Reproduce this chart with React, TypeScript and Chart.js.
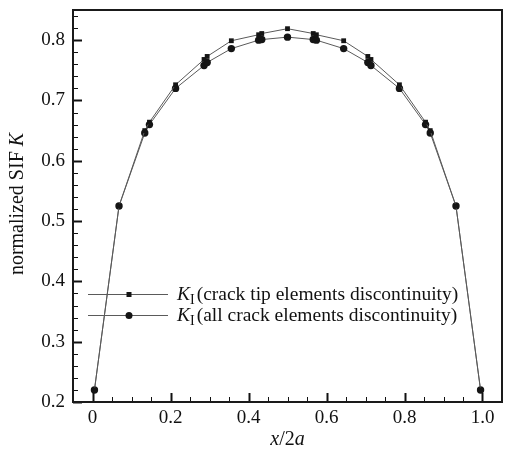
import { useEffect, useRef } from 'react';
import { Chart, registerables } from 'chart.js';

Chart.register(...registerables);

// ---- data ----
const xPositions = [0.005, 0.068, 0.134, 0.146, 0.213, 0.286, 0.294, 0.356, 0.426, 0.434, 0.5, 0.566, 0.574, 0.644, 0.706, 0.714, 0.787, 0.854, 0.866, 0.932, 0.995];
const kTipDiscontinuity = [0.22, 0.525, 0.65, 0.664, 0.726, 0.768, 0.773, 0.799, 0.809, 0.811, 0.819, 0.811, 0.809, 0.799, 0.773, 0.768, 0.726, 0.664, 0.65, 0.525, 0.22];
const kAllDiscontinuity = [0.22, 0.525, 0.646, 0.66, 0.72, 0.758, 0.763, 0.786, 0.8, 0.801, 0.805, 0.801, 0.8, 0.786, 0.763, 0.758, 0.72, 0.66, 0.646, 0.525, 0.22];
const xTickValues = [0, 0.2, 0.4, 0.6, 0.8, 1.0];
const xTickLabels = ['0', '0.2', '0.4', '0.6', '0.8', '1.0'];
const yTickValues = [0.2, 0.3, 0.4, 0.5, 0.6, 0.7, 0.8];
const yTickLabels = ['0.2', '0.3', '0.4', '0.5', '0.6', '0.7', '0.8'];
const legendTexts = ['(crack tip elements discontinuity)', '(all crack elements discontinuity)'];

const SERIF = "'Liberation Serif', 'Times New Roman', serif";
const LINE_COLOR = '#5a5a5a';
const MARK_COLOR = '#151515';

function drawMixed(ctx: CanvasRenderingContext2D, parts: { t: string; italic?: boolean; size: number; dy?: number; gap?: number }[], x: number, y: number, align: 'left' | 'center') {
  const widths = parts.map((p) => {
    ctx.font = `${p.italic ? 'italic ' : ''}${p.size}px ${SERIF}`;
    return ctx.measureText(p.t).width + (p.gap || 0);
  });
  const total = widths.reduce((a, b) => a + b, 0);
  let cx = align === 'center' ? x - total / 2 : x;
  parts.forEach((p, i) => {
    ctx.font = `${p.italic ? 'italic ' : ''}${p.size}px ${SERIF}`;
    ctx.fillText(p.t, cx, y + (p.dy || 0));
    cx += widths[i];
  });
}

const decorPlugin = {
  id: 'decor',
  afterDraw(chart: any) {
    const { ctx, chartArea, scales } = chart;
    const xs = scales.x;
    const ys = scales.y;
    const { left, right, top, bottom } = chartArea;
    ctx.save();
    // inward ticks
    ctx.strokeStyle = '#111';
    for (let i = 0; i <= 32; i++) {
      const v = 0.2 + i * 0.02;
      const py = Math.round(ys.getPixelForValue(v)) + 0.5;
      const major = i % 5 === 0;
      ctx.lineWidth = major ? 2 : 1;
      ctx.beginPath();
      ctx.moveTo(left, py);
      ctx.lineTo(left + (major ? 9 : 5), py);
      ctx.stroke();
    }
    for (let i = 0; i <= 20; i++) {
      const v = i * 0.05;
      const px = Math.round(xs.getPixelForValue(v)) + 0.5;
      const major = i % 4 === 0;
      ctx.lineWidth = major ? 2 : 1;
      ctx.beginPath();
      ctx.moveTo(px, bottom);
      ctx.lineTo(px, bottom - (major ? 9 : 5));
      ctx.stroke();
    }
    // frame
    ctx.lineWidth = 2;
    ctx.strokeStyle = '#1a1a1a';
    ctx.strokeRect(left, top, right - left, bottom - top);

    // axis titles
    ctx.fillStyle = '#111';
    ctx.textBaseline = 'middle';
    ctx.textAlign = 'left';
    drawMixed(ctx, [{ t: 'x', italic: true, size: 20 }, { t: '/2', size: 20 }, { t: 'a', italic: true, size: 20 }], (left + right) / 2, 440, 'center');
    ctx.save();
    ctx.translate(18, (top + bottom) / 2 - 2);
    ctx.rotate(-Math.PI / 2);
    drawMixed(ctx, [{ t: 'normalized SIF ', size: 20 }, { t: 'K', italic: true, size: 20 }], 0, 0, 'center');
    ctx.restore();

    // legend
    const rows = [294, 315];
    rows.forEach((ry, i) => {
      ctx.strokeStyle = LINE_COLOR;
      ctx.lineWidth = 1;
      ctx.beginPath();
      ctx.moveTo(88, ry + 0.5);
      ctx.lineTo(168, ry + 0.5);
      ctx.stroke();
      ctx.fillStyle = MARK_COLOR;
      if (i === 0) {
        ctx.fillRect(129 - 2.5, ry + 0.5 - 2.5, 5, 5);
      } else {
        ctx.beginPath();
        ctx.arc(129, ry + 0.5, 3.5, 0, Math.PI * 2);
        ctx.fill();
      }
      ctx.fillStyle = '#111';
      drawMixed(ctx, [
        { t: 'K', italic: true, size: 19.5 },
        { t: 'I', size: 14, dy: 5, gap: 2 },
        { t: legendTexts[i], size: 19.5 },
      ], 177, ry + 1, 'left');
    });
    ctx.restore();
  },
};

export default function App() {
  const ref = useRef<HTMLCanvasElement | null>(null);
  useEffect(() => {
    document.body.style.margin = '0';
    const canvas = ref.current!;
    const mk = (ys: number[]) => xPositions.map((x, i) => ({ x, y: ys[i] }));
    const chart = new Chart(canvas, {
      type: 'line',
      data: {
        datasets: [
          {
            label: 'KI (crack tip elements discontinuity)',
            data: mk(kTipDiscontinuity),
            borderColor: LINE_COLOR,
            borderWidth: 1,
            pointStyle: 'rect',
            pointRadius: 3.4,
            pointBackgroundColor: MARK_COLOR,
            pointBorderColor: MARK_COLOR,
            pointBorderWidth: 0,
            tension: 0,
          },
          {
            label: 'KI (all crack elements discontinuity)',
            data: mk(kAllDiscontinuity),
            borderColor: LINE_COLOR,
            borderWidth: 1,
            pointStyle: 'circle',
            pointRadius: 3.7,
            pointBackgroundColor: MARK_COLOR,
            pointBorderColor: MARK_COLOR,
            pointBorderWidth: 0,
            tension: 0,
          },
        ],
      },
      options: {
        animation: false,
        responsive: false,
        events: [],
        layout: { padding: { left: 0, right: 3, top: 10, bottom: 0 } },
        plugins: { legend: { display: false }, tooltip: { enabled: false } },
        scales: {
          x: {
            type: 'linear',
            min: -0.05,
            max: 1.05,
            afterBuildTicks: (s: any) => {
              s.ticks = xTickValues.map((v) => ({ value: v }));
            },
            afterFit: (s: any) => {
              s.height = 50;
              s.paddingLeft = 0;
              s.paddingRight = 0;
            },
            grid: { display: false, drawTicks: false, tickLength: 0 },
            border: { display: false },
            ticks: {
              padding: 5,
              color: '#111',
              font: { family: SERIF, size: 19 },
              maxRotation: 0,
              autoSkip: false,
              callback: (v: any) => {
                const i = xTickValues.findIndex((t) => Math.abs(t - Number(v)) < 1e-6);
                return i >= 0 ? xTickLabels[i] : '';
              },
            },
          },
          y: {
            type: 'linear',
            min: 0.2,
            max: 0.85,
            afterBuildTicks: (s: any) => {
              s.ticks = yTickValues.map((v) => ({ value: v }));
            },
            afterFit: (s: any) => {
              s.width = 73;
              s.paddingTop = 0;
              s.paddingBottom = 0;
            },
            grid: { display: false, drawTicks: false, tickLength: 0 },
            border: { display: false },
            ticks: {
              padding: 8,
              color: '#111',
              font: { family: SERIF, size: 19 },
              autoSkip: false,
              callback: (v: any) => {
                const i = yTickValues.findIndex((t) => Math.abs(t - Number(v)) < 1e-6);
                return i >= 0 ? yTickLabels[i] : '';
              },
            },
          },
        },
      },
      plugins: [decorPlugin],
    });
    return () => chart.destroy();
  }, []);
  return (
    <div style={{ width: 506, height: 452, background: '#fff' }}>
      <canvas ref={ref} width={506} height={452} style={{ display: 'block' }} />
    </div>
  );
}
